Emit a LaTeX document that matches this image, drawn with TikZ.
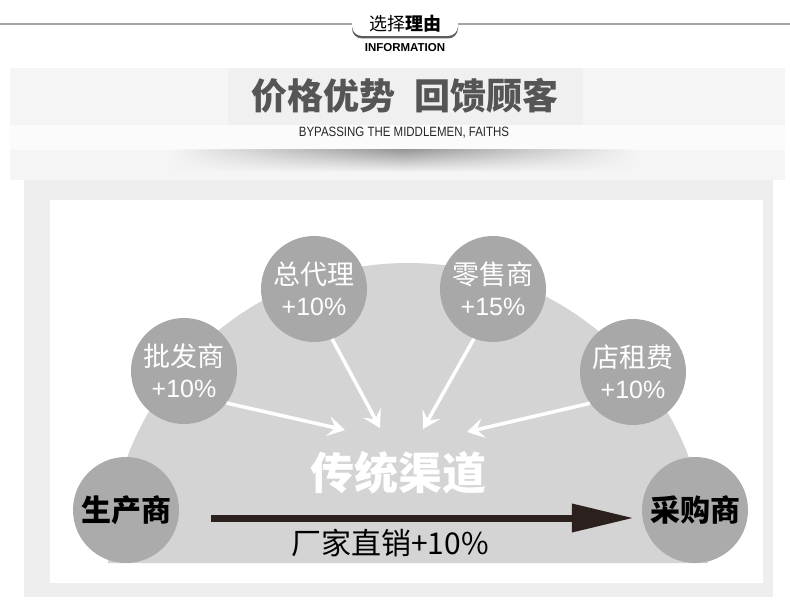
\documentclass[tikz,border=0pt]{standalone}
\usepackage{fontspec}
\setmainfont{Liberation Sans}
\newfontfamily\cjk{Noto Sans CJK SC}
\newfontfamily\narrowsans[FakeStretch=0.85]{Liberation Sans}
\usetikzlibrary{arrows.meta,shadows,fadings}
\definecolor{domegray}{HTML}{D4D4D4}
\definecolor{feegray}{HTML}{A8A8A8}
\definecolor{partygray}{HTML}{ABABAB}
\definecolor{titlegray}{HTML}{555555}
\definecolor{panelgray}{HTML}{F5F5F5}
\definecolor{titlebox}{HTML}{F0F0F0}
\definecolor{stripwhite}{HTML}{FBFBFB}
\definecolor{framegray}{HTML}{EEEEEE}
\definecolor{barbrown}{HTML}{2B201E}
\tikzfading[name=sidefade, left color=transparent!100, right color=transparent!100,
  middle color=transparent!0]
\tikzset{
  tabbox/.style={rounded corners=10pt, fill=white, minimum width=106pt, minimum height=24pt,
    inner sep=0pt, drop shadow={shadow xshift=0pt, shadow yshift=-2.5pt, opacity=0.85, fill=black!75},
    font=\cjk\fontsize{18}{20}\selectfont},
  tabline/.style={gray!70, line width=1.5pt},
  fee/.style={circle, fill=feegray, minimum size=106pt, inner sep=0pt, text=white, align=center,
    font=\fontsize{25}{31}\selectfont},
  feename/.style={font=\cjk\fontsize{27}{31}\selectfont},
  party/.style={circle, fill=partygray, minimum size=106pt, inner sep=0pt,
    font=\cjk\bfseries\fontsize{30}{32}\selectfont},
  markup/.style={white, line width=3.5pt, -{Stealth[length=17pt,width=20pt,inset=7pt]}},
}
\begin{document}
\begin{tikzpicture}[x=1pt,y=-1pt]
\useasboundingbox (0,0) rectangle (790,609);
\fill[white] (0,0) rectangle (790,609);

\node[tabbox] (tab) at (405,24) {选择\textbf{理由}};
\draw[tabline] (0,24) -- (tab.west);
\draw[tabline] (tab.east) -- (790,24);
\node[font=\bfseries\fontsize{11.5}{12}\selectfont] (info) at (405,48) {INFORMATION};

\fill[panelgray] (10,68) rectangle (785,180);
\fill[titlebox] (228,68) rectangle (583,125);
\fill[stripwhite] (10,125) rectangle (785,150);
\shade[top color=black!40, bottom color=panelgray, path fading=sidefade] (170,150) rectangle (635,172);
\node[font=\cjk\bfseries\fontsize{36}{38}\selectfont, text=titlegray] (title) at (405,96)
  {价格优势\hspace{20pt}回馈顾客};
\node[font=\narrowsans\fontsize{13.5}{14}\selectfont, text=black!85] (motto) at (404,133)
  {BYPASSING THE MIDDLEMEN, FAITHS};

\fill[framegray] (24,180) rectangle (773,597);
\fill[white] (50,200) rectangle (763,583);
\fill[domegray] (108,563) arc[start angle=180, end angle=360, radius=300] -- cycle;

\node[fee] (zdl) at (314,289) {{\cjk\fontsize{27}{31}\selectfont 总代理}\\+10\%};
\node[fee] (lss) at (493,289) {{\cjk\fontsize{27}{31}\selectfont 零售商}\\+15\%};
\node[fee] (pfs) at (184,371) {{\cjk\fontsize{27}{31}\selectfont 批发商}\\+10\%};
\node[fee] (dzf) at (633,372) {{\cjk\fontsize{27}{31}\selectfont 店租费}\\+10\%};
\node[party] (scs) at (126,510) {生产商};
\node[party] (cgs) at (695,510) {采购商};

\node[font=\cjk\bfseries\fontsize{44}{46}\selectfont, text=white] (qudao) at (398,473) {传统渠道};

\coordinate (t1) at (345,430);
\coordinate (t2) at (380,428);
\coordinate (t3) at (423,429);
\coordinate (t4) at (467,432);
\draw[markup] (pfs.-37) -- (t1);
\draw[markup] (zdl.-70) -- (t2);
\draw[markup] (lss.-111) -- (t3);
\draw[markup] (dzf.-144) -- (t4);

\draw[barbrown, line width=7pt, -{Triangle[length=62pt,width=27pt]}]
  ([shift={(32pt,-8pt)}]scs.east) -- ([shift={(-8pt,-8pt)}]cgs.west);
\node[font=\cjk\fontsize{30}{32}\selectfont] (direct) at (390,543) {厂家直销+10\%};
\end{tikzpicture}
\end{document}
